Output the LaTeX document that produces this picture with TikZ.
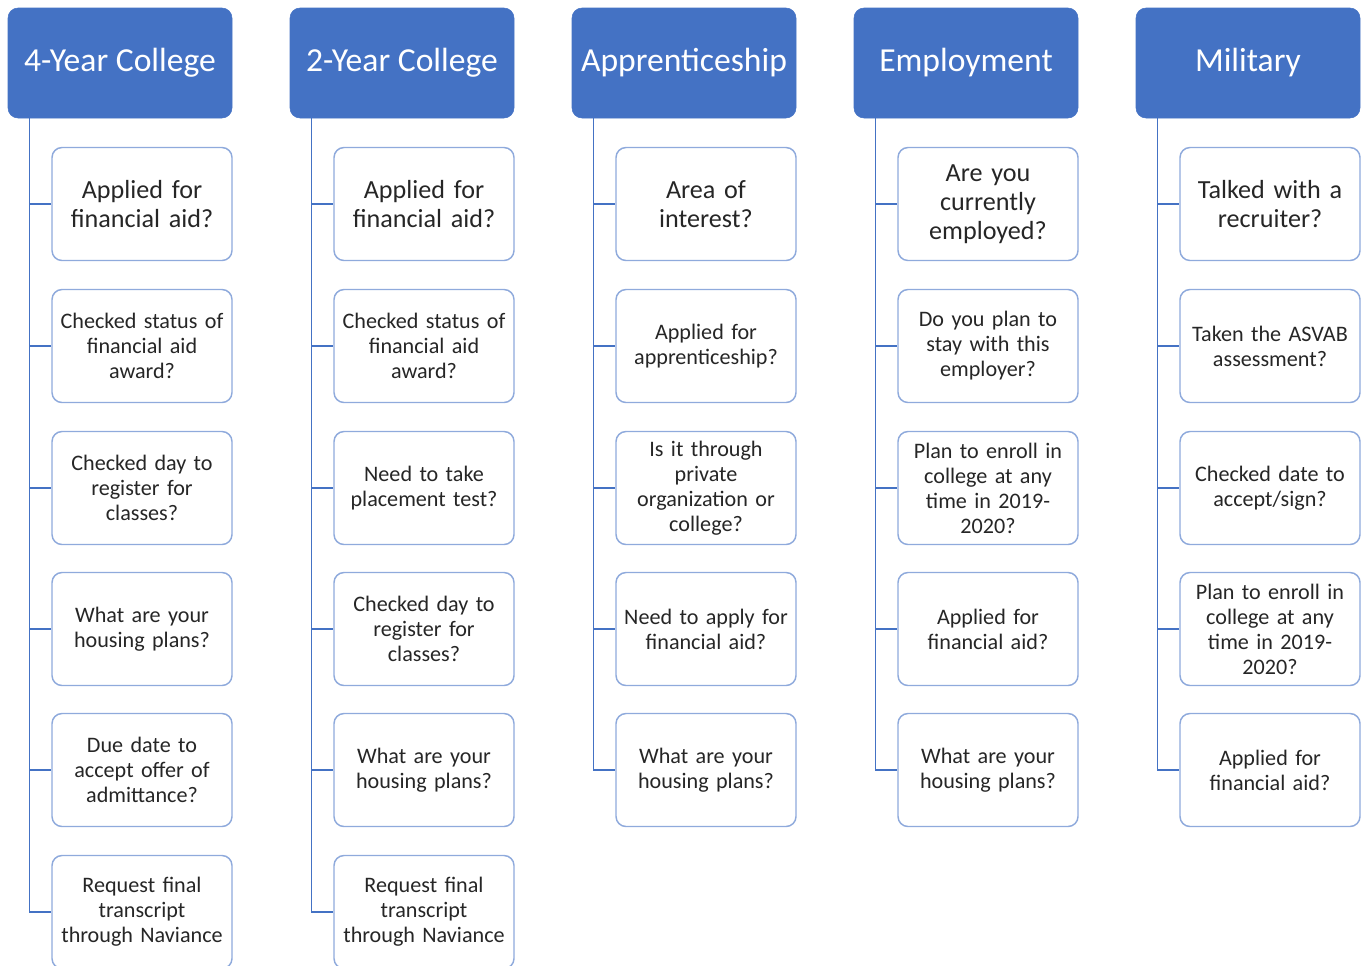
\documentclass[tikz,border=0pt]{standalone}
\usepackage{fontspec}
\setmainfont{Carlito}
\definecolor{hdrblue}{HTML}{4472C4}
\definecolor{boxblue}{HTML}{8FAADC}
\definecolor{txtgray}{HTML}{262626}
\begin{document}
\begin{tikzpicture}
[x=0.75pt,y=-0.75pt,
 hdr/.style={draw=hdrblue,fill=hdrblue,rounded corners=7.5pt,minimum width=168pt,minimum height=82.5pt,text=white,font=\fontsize{25.2}{30}\selectfont},
 qbig/.style={draw=boxblue,line width=1.1pt,fill=white,rounded corners=7.5pt,minimum width=135pt,minimum height=84.75pt,text width=127pt,align=center,text=txtgray,font=\fontsize{19.6}{21.8}\selectfont},
 qbox/.style={qbig,font=\fontsize{16.6}{18.8}\selectfont},
 link/.style={draw=hdrblue,line width=1.1pt},]

\clip (0,0) rectangle (1361,965);

% headers
\node (h1) at (120,63)[hdr]{4-Year College};
\node (h2) at (402,63)[hdr]{2-Year College};
\node (h3) at (684,63)[hdr]{Apprenticeship};
\node (h4) at (966,63)[hdr]{Employment};
\node (h5) at (1248,63)[hdr]{Military};

% 4-year college
\node (a1) at (142,204)[qbig]{Applied for\\financial aid?};
\node (a2) at (142,346)[qbox]{Checked status of\\financial aid\\award?};
\node (a3) at (142,488)[qbox]{Checked day to\\register for\\classes?};
\node (a4) at (142,629)[qbox]{What are your\\housing plans?};
\node (a5) at (142,770)[qbox]{Due date to\\accept offer of\\admittance?};
\node (a6) at (142,912)[qbox]{Request final\\transcript\\through Naviance};

% 2-year college
\node (b1) at (424,204)[qbig]{Applied for\\financial aid?};
\node (b2) at (424,346)[qbox]{Checked status of\\financial aid\\award?};
\node (b3) at (424,488)[qbox]{Need to take\\placement test?};
\node (b4) at (424,629)[qbox]{Checked day to\\register for\\classes?};
\node (b5) at (424,770)[qbox]{What are your\\housing plans?};
\node (b6) at (424,912)[qbox]{Request final\\transcript\\through Naviance};

% apprenticeship
\node (c1) at (706,204)[qbig]{Area of\\interest?};
\node (c2) at (706,346)[qbox]{Applied for\\apprenticeship?};
\node (c3) at (706,488)[qbox]{Is it through\\private\\organization or\\college?};
\node (c4) at (706,629)[qbox]{Need to apply for\\financial aid?};
\node (c5) at (706,770)[qbox]{What are your\\housing plans?};

% employment
\node (d1) at (988,204)[qbig]{Are you\\currently\\employed?};
\node (d2) at (988,346)[qbox]{Do you plan to\\stay with this\\employer?};
\node (d3) at (988,488)[qbox]{Plan to enroll in\\college at any\\time in 2019-\\2020?};
\node (d4) at (988,629)[qbox]{Applied for\\financial aid?};
\node (d5) at (988,770)[qbox]{What are your\\housing plans?};

% military
\node (e1) at (1270,204)[qbig]{Talked with a\\recruiter?};
\node (e2) at (1270,346)[qbox]{Taken the ASVAB\\assessment?};
\node (e3) at (1270,488)[qbox]{Checked date to\\accept/sign?};
\node (e4) at (1270,629)[qbox]{Plan to enroll in\\college at any\\time in 2019-\\2020?};
\node (e5) at (1270,770)[qbox]{Applied for\\financial aid?};

\foreach \n in {1,...,6}{
  \draw[link] ([xshift=16.5pt]h1.south west) |- (a\n.west);
  \draw[link] ([xshift=16.5pt]h2.south west) |- (b\n.west);
}
\foreach \n in {1,...,5}{
  \draw[link] ([xshift=16.5pt]h3.south west) |- (c\n.west);
  \draw[link] ([xshift=16.5pt]h4.south west) |- (d\n.west);
  \draw[link] ([xshift=16.5pt]h5.south west) |- (e\n.west);
}

\end{tikzpicture}
\end{document}
